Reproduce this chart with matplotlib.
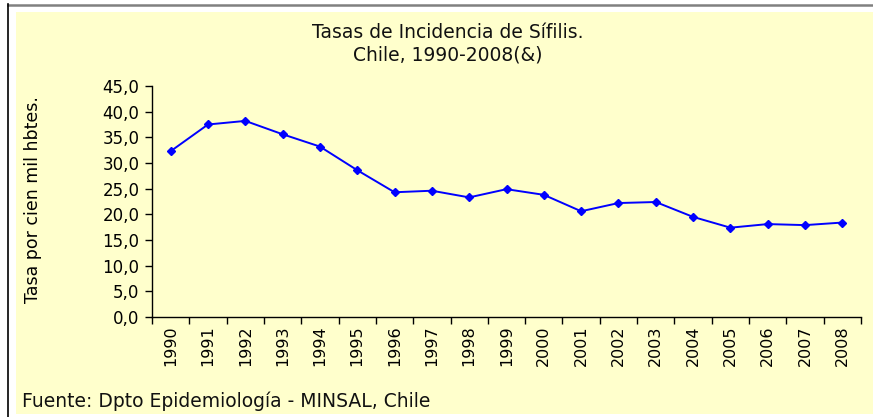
import numpy as np
import matplotlib
matplotlib.use("Agg")
import matplotlib.pyplot as plt
from matplotlib.patches import Rectangle
from matplotlib.lines import Line2D
from matplotlib.ticker import FuncFormatter

# Tasas de incidencia de sifilis, Chile 1990-2008 (por cien mil hbtes.)
years = ['1990', '1991', '1992', '1993', '1994', '1995', '1996', '1997', '1998', '1999',
         '2000', '2001', '2002', '2003', '2004', '2005', '2006', '2007', '2008']
rates = [32.3, 37.5, 38.2, 35.6, 33.2, 28.6, 24.3, 24.6, 23.3, 24.9,
         23.8, 20.6, 22.2, 22.4, 19.5, 17.4, 18.1, 17.9, 18.4]

W, H = 873, 417
fig = plt.figure(figsize=(W / 100, H / 100), dpi=100)
fig.patch.set_facecolor('white')

# yellow chart area + frame lines
fig.patches.append(Rectangle((16 / W, 3 / H), 1 - 16 / W, 1 - 15 / H,
                             transform=fig.transFigure, facecolor='#ffffcc',
                             edgecolor='none', zorder=-10))
fig.lines.append(Line2D([8 / W, 1], [1 - 4.5 / H, 1 - 4.5 / H], transform=fig.transFigure,
                        color='#808080', lw=1.8, zorder=-5))
fig.lines.append(Line2D([8 / W, 8 / W], [0, 1 - 4 / H], transform=fig.transFigure,
                        color='black', lw=1.2, zorder=-5))

ax = fig.add_axes([152 / W, 1 - 317 / H, (861 - 152) / W, (317 - 86) / H])
ax.set_facecolor('none')
ax.set_zorder(5)

x = np.arange(len(years))
ax.plot(x, rates, color='#0000ff', lw=1.4, marker='D', markersize=4.5,
        markerfacecolor='#0000ff', markeredgecolor='#0000ff', clip_on=False)

ax.set_xlim(-0.5, len(years) - 0.5)
ax.set_ylim(0, 45)
ax.set_yticks(np.arange(0, 46, 5))
ax.yaxis.set_major_formatter(FuncFormatter(lambda v, p: f'{v:.1f}'.replace('.', ',')))

ax.set_xticks(x)
ax.set_xticklabels(years, rotation=90, va='top', ha='center')
ax.set_xticks(np.arange(-0.5, len(years), 1), minor=True)
ax.tick_params(axis='x', which='major', length=0, pad=6, labelsize=11.5)
ax.tick_params(axis='x', which='minor', length=5, width=1, direction='out')
ax.tick_params(axis='y', length=5, width=1, direction='out', pad=4, labelsize=12)

for s in ['top', 'right']:
    ax.spines[s].set_visible(False)
for s in ['left', 'bottom']:
    ax.spines[s].set_linewidth(1)
    ax.spines[s].set_color('black')

fig.text(33 / W, 1 - 200 / H, 'Tasa por cien mil hbtes.', rotation=90,
         ha='center', va='center', fontsize=12.5)
fig.text(448 / W, 1 - 44 / H, 'Tasas de Incidencia de Sífilis.\nChile, 1990-2008(&)',
         ha='center', va='center', fontsize=13.5, linespacing=1.2, color='#111111')
fig.text(22 / W, 1 - 401 / H, 'Fuente: Dpto Epidemiología - MINSAL, Chile',
         ha='left', va='center', fontsize=13.5, color='#111111')

plt.savefig('out.png', dpi=100)
